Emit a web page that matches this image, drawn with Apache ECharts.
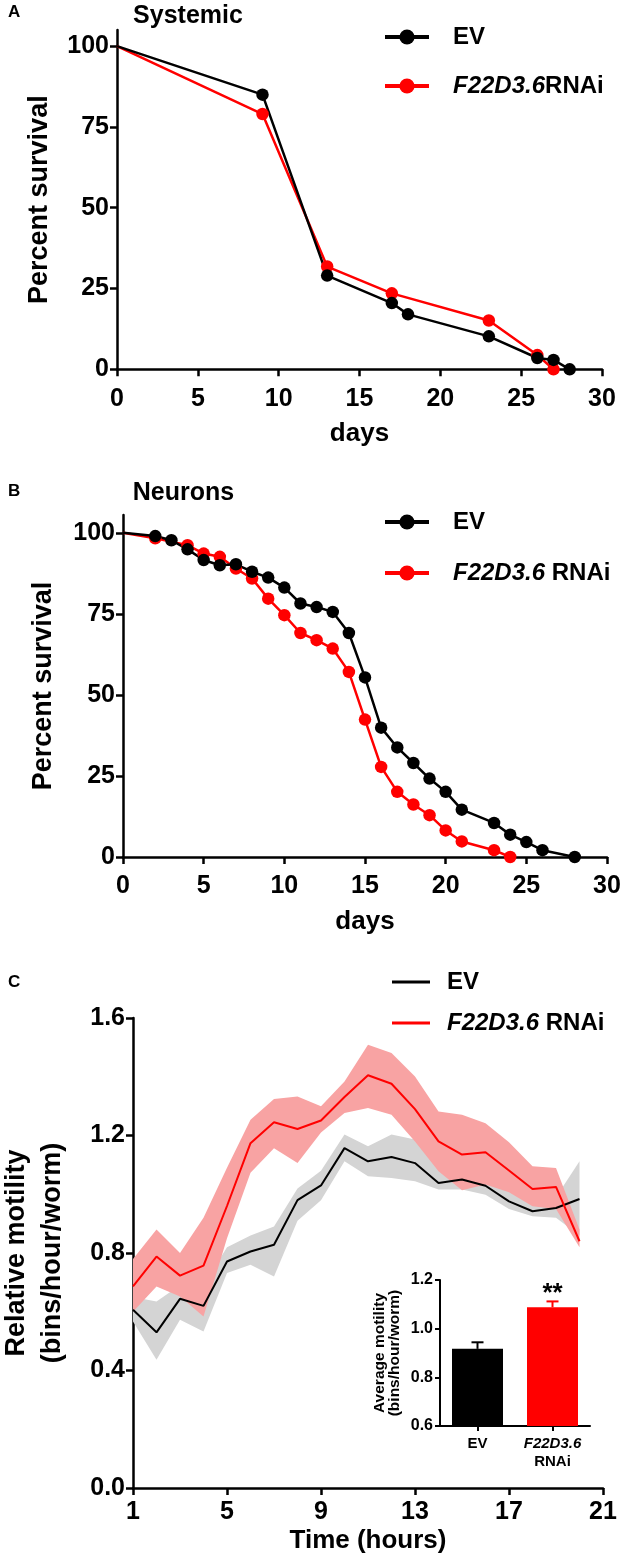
<!DOCTYPE html>
<html>
<head>
<meta charset="utf-8">
<script src="https://cdn.jsdelivr.net/npm/echarts@6/dist/echarts.min.js"></script>
<style>
html,body{margin:0;padding:0;background:#fff;}
#chart{width:622px;height:1563px;}
</style>
</head>
<body>
<div id="chart"></div>
<script>
// ---------------- DATA ----------------
// Panel A: Systemic
const aEvDays   = [0, 9, 13, 17, 18, 23, 26, 27, 28];
const aEvSurv   = [100, 85, 29, 20.5, 17, 10.2, 3.5, 2.9, 0];
const aRnaiDays = [0, 9, 13, 17, 23, 26, 27];
const aRnaiSurv = [100, 79, 31.8, 23.5, 15.1, 4.4, 0];

// Panel B: Neurons
const bEvDays   = [0, 2, 3, 4, 5, 6, 7, 8, 9, 10, 11, 12, 13, 14, 15, 16, 17, 18, 19, 20, 21, 23, 24, 25, 26, 28];
const bEvSurv   = [100, 99, 97.7, 94.9, 91.6, 90.0, 90.3, 88, 86.2, 83.1, 78.2, 77.1, 75.6, 69.1, 55.4, 39.9, 33.8, 29, 24.2, 20.1, 14.6, 10.5, 6.9, 4.6, 2.1, 0];
const bRnaiDays = [0, 2, 4, 5, 6, 7, 8, 9, 10, 11, 12, 13, 14, 15, 16, 17, 18, 19, 20, 21, 23, 24];
const bRnaiSurv = [100, 98.3, 96.2, 93.6, 92.6, 89.0, 85.9, 79.7, 74.6, 69.1, 66.9, 64.3, 57.1, 42.4, 27.8, 20.1, 16.2, 12.9, 8.2, 4.8, 2.1, 0];

// Panel C: motility
const cHours     = [1, 2, 3, 4, 5, 6, 7, 8, 9, 10, 11, 12, 13, 14, 15, 16, 17, 18, 19, 20];
const cEv        = [0.607, 0.53, 0.644, 0.62, 0.771, 0.805, 0.828, 0.98, 1.03, 1.157, 1.112, 1.127, 1.106, 1.038, 1.05, 1.029, 0.976, 0.942, 0.953, 0.984];
const cEvUpper   = [0.65, 0.635, 0.69, 0.69, 0.82, 0.86, 0.89, 1.02, 1.08, 1.203, 1.163, 1.203, 1.186, 1.106, 1.10, 1.08, 1.02, 0.97, 0.99, 1.112];
const cEvLower   = [0.567, 0.437, 0.573, 0.533, 0.732, 0.76, 0.72, 0.91, 0.98, 1.112, 1.061, 1.055, 1.044, 1.016, 1.016, 0.998, 0.95, 0.925, 0.92, 0.86];
const cRnai      = [0.686, 0.788, 0.723, 0.757, 0.96, 1.174, 1.245, 1.222, 1.251, 1.331, 1.405, 1.376, 1.29, 1.18, 1.135, 1.143, 1.081, 1.018, 1.025, 0.84];
const cRnaiUpper = [0.78, 0.88, 0.80, 0.92, 1.09, 1.254, 1.324, 1.333, 1.30, 1.384, 1.509, 1.481, 1.401, 1.282, 1.271, 1.242, 1.177, 1.095, 1.089, 0.88];
const cRnaiLower = [0.60, 0.686, 0.652, 0.584, 0.85, 1.073, 1.157, 1.106, 1.21, 1.277, 1.294, 1.271, 1.18, 1.078, 1.014, 1.033, 1.007, 0.959, 0.95, 0.82];

// Inset
const insetCats = ['EV', 'F22D3.6 RNAi'];
const insetMean = [0.917, 1.088];
const insetSem  = [0.027, 0.024];

// Tick labels
const survTicks = [0, 25, 50, 75, 100];
const hourTicks = [1, 5, 9, 13, 17, 21];

// ---------------- STYLE ----------------
const FONT = '"Liberation Sans", Arial, Helvetica, sans-serif';
const RED = '#FF0000', BLACK = '#000000';
const RED_BAND = '#F8A3A3', GREY_BAND = '#D4D4D4';
const AX = {color: '#000', width: 2.5};

function pts(xs, ys) {
  return xs.map((x, i) => i === 0 ? {value: [x, ys[i]], symbol: 'none'} : [x, ys[i]]);
}
function pairs(xs, ys) { return xs.map((x, i) => [x, ys[i]]); }

const legendNames = {
  aEV: 'EV', aRNAi: '{i|F22D3.6}RNAi',
  bEV: 'EV', bRNAi: '{i|F22D3.6} RNAi',
  cEV: 'EV', cRNAi: '{i|F22D3.6} RNAi'
};
const legTextStyle = (pad) => ({
  fontFamily: FONT, fontSize: 24, fontWeight: 'bold', color: '#000', lineHeight: 24,
  padding: [0, 0, 0, pad],
  rich: {i: {fontFamily: FONT, fontSize: 24, fontWeight: 'bold', fontStyle: 'italic', color: '#000', lineHeight: 24}}
});

const tickLabel = (size, margin, fmt) => ({
  fontFamily: FONT, fontSize: size, fontWeight: 'bold', color: '#000', margin: margin, formatter: fmt
});
const nameStyle = {fontFamily: FONT, fontSize: 26, fontWeight: 'bold', color: '#000'};

function survXAxis(grid) {
  return {
    gridIndex: grid, type: 'value', min: 0, max: 30, interval: 5,
    axisLine: {show: true, onZero: false, lineStyle: AX},
    axisTick: {show: true, length: 7, lineStyle: AX},
    axisLabel: tickLabel(25, 17),
    splitLine: {show: false},
    name: 'days', nameLocation: 'middle', nameGap: 52, nameTextStyle: nameStyle
  };
}
function survYAxis(grid, max) {
  return {
    gridIndex: grid, type: 'value', min: 0, max: max,
    axisLine: {show: true, onZero: false, lineStyle: AX},
    axisTick: {show: true, length: 7, lineStyle: AX, customValues: survTicks},
    axisLabel: Object.assign(tickLabel(25, 8), {customValues: survTicks}),
    splitLine: {show: false},
    name: 'Percent survival', nameLocation: 'middle', nameRotate: 90, nameGap: 64,
    nameTextStyle: {fontFamily: FONT, fontSize: 27, fontWeight: 'bold', color: '#000'}
  };
}
function survSeries(name, grid, xs, ys, color) {
  return {
    name: name, type: 'line', xAxisIndex: grid, yAxisIndex: grid,
    data: pts(xs, ys), symbol: 'circle', symbolSize: 12.5, showSymbol: true, clip: false,
    itemStyle: {color: color}, lineStyle: {color: color, width: 2.5}
  };
}
// Confidence band drawn as one polygon through the axis scales
function bandSeries(name, lower, upper, color) {
  const rows = cHours.map((h, i) => [h, lower[i], upper[i]]);
  return {
    name: name, type: 'custom', xAxisIndex: 2, yAxisIndex: 2, silent: true, z: 1,
    encode: {x: 0, y: [1, 2]},
    data: rows,
    renderItem: function (params, api) {
      if (params.dataIndex !== 0) return null;
      const top = rows.map(r => api.coord([r[0], r[2]]));
      const bot = rows.map(r => api.coord([r[0], r[1]])).reverse();
      return {type: 'polygon', shape: {points: top.concat(bot)}, style: {fill: color}};
    }
  };
}

const gridBase = {containLabel: false, outerBoundsMode: 'none'};

const option = {
  animation: false,
  backgroundColor: '#fff',
  textStyle: {fontFamily: FONT},
  grid: [
    Object.assign({left: 117, top: 30, width: 485, height: 339.3}, gridBase),
    Object.assign({left: 123, top: 515, width: 484, height: 342}, gridBase),
    Object.assign({left: 133, top: 1018, width: 470, height: 470}, gridBase),
    Object.assign({left: 440, top: 1280, width: 150, height: 146}, gridBase)
  ],
  xAxis: [
    survXAxis(0),
    survXAxis(1),
    {
      gridIndex: 2, type: 'value', min: 1, max: 21,
      axisLine: {show: true, onZero: false, lineStyle: AX},
      axisTick: {show: true, length: 7, lineStyle: AX, customValues: hourTicks},
      axisLabel: Object.assign(tickLabel(25, 12), {customValues: hourTicks}),
      splitLine: {show: false},
      name: 'Time (hours)', nameLocation: 'middle', nameGap: 40, nameTextStyle: nameStyle
    },
    {
      gridIndex: 3, type: 'category', data: insetCats, z: 10,
      axisLine: {show: true, onZero: false, lineStyle: {color: '#000', width: 2}},
      axisTick: {show: true, alignWithLabel: true, length: 5, lineStyle: {color: '#000', width: 2}},
      axisLabel: {
        interval: 0, margin: 9, fontFamily: FONT, fontSize: 15, fontWeight: 'bold', color: '#000', lineHeight: 18,
        formatter: v => v === 'EV' ? 'EV' : '{i|F22D3.6}\nRNAi',
        rich: {i: {fontFamily: FONT, fontSize: 15, fontWeight: 'bold', fontStyle: 'italic', color: '#000', lineHeight: 18}}
      }
    }
  ],
  yAxis: [
    survYAxis(0, 105),
    Object.assign(survYAxis(1, 105.5), {nameGap: 66}),
    {
      gridIndex: 2, type: 'value', min: 0, max: 1.6, interval: 0.4,
      axisLine: {show: true, onZero: false, lineStyle: AX},
      axisTick: {show: true, length: 7, lineStyle: AX},
      axisLabel: tickLabel(25, 8, v => v.toFixed(1)),
      splitLine: {show: false},
      name: 'Relative motility\n(bins/hour/worm)', nameLocation: 'middle', nameRotate: 90, nameGap: 62,
      nameTextStyle: {fontFamily: FONT, fontSize: 27, fontWeight: 'bold', color: '#000', lineHeight: 36}
    },
    {
      gridIndex: 3, type: 'value', min: 0.6, max: 1.2, interval: 0.2, z: 10,
      axisLine: {show: true, onZero: false, lineStyle: {color: '#000', width: 2}},
      axisTick: {show: true, length: 5, lineStyle: {color: '#000', width: 2}},
      axisLabel: tickLabel(16, 7, v => v.toFixed(1)),
      splitLine: {show: false},
      name: 'Average motility\n(bins/hour/worm)', nameLocation: 'middle', nameRotate: 90, nameGap: 38,
      nameTextStyle: {fontFamily: FONT, fontSize: 15.5, fontWeight: 'bold', color: '#000', lineHeight: 15}
    }
  ],
  legend: [
    {
      data: ['aEV', 'aRNAi'], orient: 'vertical', left: 378, top: 20,
      itemWidth: 44, itemHeight: 19, itemGap: 25, lineStyle: {width: 4},
      formatter: n => legendNames[n], textStyle: legTextStyle(19), selectedMode: false
    },
    {
      data: ['bEV', 'bRNAi'], orient: 'vertical', left: 378, top: 505,
      itemWidth: 44, itemHeight: 19, itemGap: 27, lineStyle: {width: 4},
      formatter: n => legendNames[n], textStyle: legTextStyle(19), selectedMode: false
    },
    {
      data: [{name: 'cEV', icon: 'rect'}, {name: 'cRNAi', icon: 'rect'}], orient: 'vertical', left: 387, top: 965,
      itemWidth: 38, itemHeight: 3, itemGap: 17,
      formatter: n => legendNames[n], textStyle: legTextStyle(12), selectedMode: false
    }
  ],
  graphic: [
    {type: 'text', x: 8, y: 12.5, style: {text: 'A', font: `bold 17px ${FONT}`, fill: '#000', textVerticalAlign: 'middle', verticalAlign: 'middle'}},
    {type: 'text', x: 188, y: 16, style: {text: 'Systemic', font: `bold 25px ${FONT}`, fill: '#000', textAlign: 'center', align: 'center', textVerticalAlign: 'middle', verticalAlign: 'middle'}},
    {type: 'text', x: 8, y: 491.5, style: {text: 'B', font: `bold 17px ${FONT}`, fill: '#000', textVerticalAlign: 'middle', verticalAlign: 'middle'}},
    {type: 'text', x: 183.5, y: 493, style: {text: 'Neurons', font: `bold 25px ${FONT}`, fill: '#000', textAlign: 'center', align: 'center', textVerticalAlign: 'middle', verticalAlign: 'middle'}},
    {type: 'text', x: 8, y: 982, style: {text: 'C', font: `bold 17px ${FONT}`, fill: '#000', textVerticalAlign: 'middle', verticalAlign: 'middle'}}
  ],
  series: [
    // A (red first so black sits on top)
    survSeries('aRNAi', 0, aRnaiDays, aRnaiSurv, RED),
    survSeries('aEV', 0, aEvDays, aEvSurv, BLACK),
    // B
    survSeries('bRNAi', 1, bRnaiDays, bRnaiSurv, RED),
    survSeries('bEV', 1, bEvDays, bEvSurv, BLACK),
    // C bands
    bandSeries('cEVband', cEvLower, cEvUpper, GREY_BAND),
    bandSeries('cRNAiband', cRnaiLower, cRnaiUpper, RED_BAND),
    // C mean lines
    {
      name: 'cEV', type: 'line', xAxisIndex: 2, yAxisIndex: 2, symbol: 'none', showSymbol: false, z: 2,
      data: pairs(cHours, cEv), itemStyle: {color: BLACK}, lineStyle: {color: BLACK, width: 2}
    },
    {
      name: 'cRNAi', type: 'line', xAxisIndex: 2, yAxisIndex: 2, symbol: 'none', showSymbol: false, z: 2,
      data: pairs(cHours, cRnai), itemStyle: {color: RED}, lineStyle: {color: RED, width: 2}
    },
    // Inset bars
    {
      name: 'inset', type: 'bar', xAxisIndex: 3, yAxisIndex: 3, barWidth: 51, z: 10,
      data: insetMean.map((m, i) => ({
        value: m,
        itemStyle: {color: i === 0 ? BLACK : RED},
        label: i === 1 ? {show: true, position: 'top', distance: 0, formatter: '**',
          fontFamily: FONT, fontSize: 26, fontWeight: 'bold', color: '#000'} : {show: false}
      }))
    },
    {
      name: 'insetErr', type: 'custom', xAxisIndex: 3, yAxisIndex: 3, z: 11,
      data: insetMean.map((m, i) => [i, m, m + insetSem[i]]),
      renderItem: function (params, api) {
        const base = api.coord([api.value(0), api.value(1)]);
        const top = api.coord([api.value(0), api.value(2)]);
        const col = api.value(0) === 0 ? BLACK : RED;
        const st = {stroke: col, lineWidth: 2};
        return {
          type: 'group', children: [
            {type: 'line', shape: {x1: base[0], y1: base[1], x2: top[0], y2: top[1]}, style: st},
            {type: 'line', shape: {x1: top[0] - 6, y1: top[1], x2: top[0] + 6, y2: top[1]}, style: st}
          ]
        };
      }
    }
  ]
};

const chart = echarts.init(document.getElementById('chart'), null, {renderer: 'canvas'});
chart.setOption(option);
</script>
</body>
</html>
